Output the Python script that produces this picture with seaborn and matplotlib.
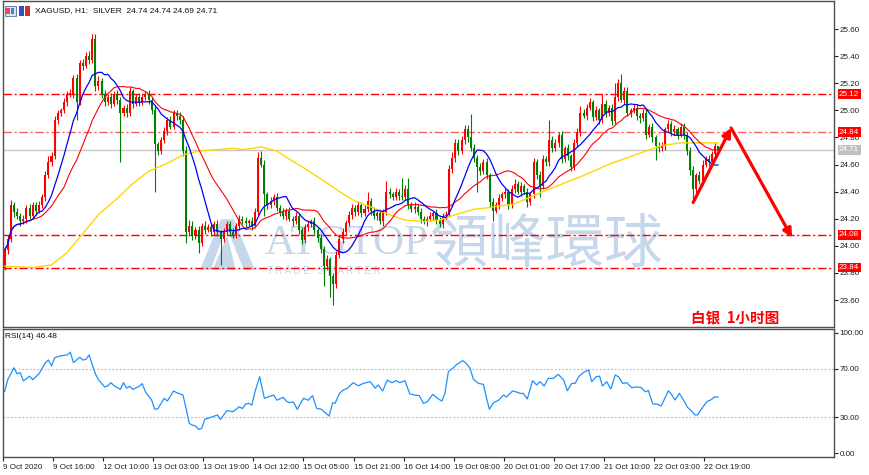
import numpy as np
import pandas as pd
import matplotlib
matplotlib.use("Agg")
import matplotlib.pyplot as plt
from matplotlib.patches import Rectangle, Polygon
import seaborn as sns

# Cours de clôture H1, une ligne = 16 bougies
closes = [
    23.97, 24.05, 24.30, 24.25, 24.22, 24.18, 24.20, 24.28, 24.22, 24.30, 24.26, 24.30, 24.36, 24.52, 24.62, 24.66,
    24.93, 24.98, 25.00, 25.06, 25.12, 25.12, 25.24, 25.06, 25.35, 25.33, 25.40, 25.37, 25.53, 25.18, 25.22, 25.12,
    25.06, 25.10, 25.05, 25.12, 25.08, 24.98, 25.02, 24.98, 25.14, 25.05, 25.10, 25.06, 25.10, 25.12, 25.08, 25.00,
    24.75, 24.70, 24.78, 24.85, 24.93, 24.88, 24.98, 24.96, 24.93, 24.70, 24.10, 24.15, 24.07, 24.12, 24.02, 24.15,
    24.12, 24.14, 24.10, 24.16, 24.10, 24.05, 24.10, 24.16, 24.10, 24.08, 24.15, 24.20, 24.18, 24.17, 24.18, 24.15,
    24.25, 24.65, 24.60, 24.38, 24.30, 24.33, 24.36, 24.28, 24.25, 24.22, 24.26, 24.20, 24.18, 24.22, 24.12, 24.04,
    24.14, 24.16, 24.18, 24.12, 24.06, 23.98, 23.85, 23.90, 23.78, 23.72, 23.93, 24.05, 24.10, 24.17, 24.23, 24.28,
    24.25, 24.30, 24.24, 24.27, 24.33, 24.26, 24.22, 24.24, 24.18, 24.25, 24.40, 24.38, 24.36, 24.40, 24.37, 24.36,
    24.42, 24.30, 24.27, 24.29, 24.25, 24.20, 24.18, 24.20, 24.22, 24.24, 24.19, 24.16, 24.22, 24.23, 24.57, 24.65,
    24.76, 24.70, 24.78, 24.86, 24.80, 24.72, 24.65, 24.58, 24.55, 24.62, 24.52, 24.32, 24.26, 24.30, 24.35, 24.38,
    24.40, 24.30, 24.42, 24.46, 24.40, 24.44, 24.40, 24.32, 24.38, 24.62, 24.52, 24.44, 24.64, 24.62, 24.78, 24.72,
    24.76, 24.82, 24.64, 24.72, 24.66, 24.58, 24.76, 24.84, 24.98, 24.96, 25.02, 25.06, 24.95, 25.00, 24.93, 25.05,
    24.98, 25.02, 24.92, 25.10, 25.20, 25.08, 25.14, 24.98, 25.00, 25.02, 24.96, 24.94, 24.98, 24.82, 24.88, 24.80,
    24.74, 24.72, 24.74, 24.86, 24.90, 24.84, 24.86, 24.82, 24.88, 24.82, 24.70, 24.56, 24.42, 24.52, 24.48, 24.60,
    24.64, 24.62, 24.68, 24.74, 24.71,
]
first_open = 23.84

# mèches hautes / basses en cents
wick_up = [
    1, 3, 4, 2, 3, 2, 3, 2, 3, 2, 2, 3, 2, 3, 4, 3,
    3, 2, 2, 3, 2, 4, 2, 3, 2, 3, 3, 4, 3, 3, 3, 2,
    3, 2, 3, 2, 3, 2, 2, 3, 3, 2, 2, 3, 2, 2, 3, 2,
    3, 2, 2, 3, 2, 3, 2, 2, 3, 3, 4, 4, 3, 2, 3, 2,
    3, 2, 3, 2, 3, 2, 3, 2, 2, 3, 2, 3, 2, 3, 2, 3,
    3, 4, 5, 3, 2, 3, 2, 3, 2, 3, 2, 3, 2, 3, 2, 2,
    2, 3, 2, 3, 2, 3, 2, 3, 2, 2, 3, 2, 3, 2, 3, 3,
    2, 3, 2, 3, 7, 2, 3, 2, 3, 2, 8, 3, 2, 3, 2, 13,
    3, 8, 2, 3, 2, 3, 2, 2, 3, 2, 3, 2, 2, 3, 3, 4,
    3, 3, 3, 3, 3, 17, 3, 2, 3, 2, 3, 2, 3, 2, 3, 2,
    3, 2, 3, 3, 2, 3, 2, 3, 2, 3, 2, 3, 3, 2, 15, 3,
    3, 2, 3, 2, 3, 2, 3, 3, 5, 3, 3, 3, 2, 3, 2, 7,
    3, 2, 3, 10, 3, 7, 3, 3, 2, 3, 3, 2, 3, 3, 2, 3,
    2, 3, 3, 2, 3, 2, 3, 2, 3, 3, 2, 3, 3, 2, 3, 3,
    2, 3, 2, 2, 0,
]
wick_dn = [
    2, 3, 2, 4, 2, 3, 2, 3, 2, 2, 3, 2, 2, 3, 2, 3,
    2, 3, 2, 2, 3, 2, 3, 13, 2, 3, 2, 3, 2, 4, 3, 3,
    3, 2, 3, 2, 3, 36, 2, 3, 2, 3, 2, 3, 2, 2, 3, 3,
    35, 3, 2, 2, 3, 2, 2, 3, 3, 4, 8, 3, 3, 2, 7, 2,
    3, 2, 3, 2, 3, 19, 2, 2, 3, 2, 2, 3, 2, 3, 2, 3,
    2, 3, 2, 16, 3, 2, 3, 2, 3, 2, 3, 2, 3, 2, 3, 3,
    2, 3, 2, 3, 3, 3, 15, 3, 16, 16, 3, 2, 3, 2, 2, 3,
    3, 2, 3, 2, 2, 3, 2, 3, 2, 3, 2, 3, 2, 2, 3, 2,
    2, 3, 2, 3, 2, 3, 2, 3, 2, 3, 3, 2, 3, 2, 2, 3,
    3, 3, 2, 3, 3, 2, 3, 18, 3, 2, 3, 3, 8, 2, 3, 2,
    3, 3, 2, 3, 2, 3, 2, 3, 2, 3, 3, 8, 2, 3, 3, 3,
    2, 3, 3, 2, 3, 3, 2, 3, 3, 2, 3, 2, 3, 2, 3, 2,
    3, 2, 3, 2, 3, 2, 3, 2, 3, 2, 3, 3, 2, 3, 2, 3,
    11, 3, 2, 3, 2, 3, 2, 3, 2, 3, 3, 4, 8, 3, 2, 3,
    2, 3, 2, 3, 2,
]

# moyenne mobile lente (jaune)
slow_bars = [0, 9, 15, 20, 25, 30, 36, 41, 46, 52, 57, 62, 68, 73, 76, 82, 87, 91, 96,
             102, 107, 112, 118, 123, 128, 134, 139, 144, 150, 154, 163, 173, 184, 194,
             205, 210, 216, 221, 228]
slow_vals = [23.85, 23.84, 23.86, 23.95, 24.09, 24.23, 24.35, 24.46, 24.55, 24.61, 24.67,
             24.70, 24.71, 24.72, 24.71, 24.73, 24.70, 24.64, 24.57, 24.48, 24.40, 24.33,
             24.28, 24.23, 24.19, 24.18, 24.19, 24.23, 24.27, 24.28, 24.31, 24.41, 24.51,
             24.61, 24.70, 24.74, 24.76, 24.76, 24.76]

# RSI(14)
rsi_bars = [0, 1, 3, 4, 5, 6, 8, 9, 11, 13, 14, 15, 16, 18, 20, 21, 22, 24, 25, 26, 27,
            29, 30, 32, 33, 34, 35, 37, 38, 39, 40, 41, 43, 44, 45, 47, 48, 49, 51, 52,
            54, 55, 57, 58, 59, 60, 61, 62, 63, 64, 65, 67, 68, 69, 71, 73, 75, 76, 77,
            78, 79, 80, 81.5, 83, 85, 86, 87, 89, 90, 91, 92.3, 93.5, 95.5, 97, 98.4,
            99.7, 101.3, 102.4, 103.7, 104.8, 105.6, 107, 108.2, 109.5, 111.4, 113,
            114.6, 116.8, 118.4, 119.4, 120.8, 122.3, 123.7, 125.1, 126.3, 127.9, 129.5,
            131.1, 132.5, 133.8, 135.1, 136.8, 138.3, 139.7, 140.7, 141.8, 143.2, 144.5,
            146.4, 147.4, 148.7, 149.8, 151.4, 153, 154, 154.9, 156.2, 157.8, 159.4,
            160.4, 162.3, 163.6, 164.7, 165.7, 167, 168.7, 170, 171.1, 172.4, 173.7,
            175.3, 176.9, 178.6, 179.8, 181.2, 182.3, 183.4, 185, 186.6, 187.6, 189,
            190.1, 191, 192.4, 193.7, 195.1, 196.1, 197.5, 198.8, 200.4, 201.8, 203.3,
            204.7, 205.7, 207.1, 208.4, 209.8, 210.7, 212.1, 213.2, 214.2, 215.6, 216.9,
            218.2, 219.2, 220.6, 221.4, 222.8, 224.4, 225.6, 227, 228]
rsi_vals = [51, 61, 71, 66, 67, 60, 64, 61, 66, 75, 77.5, 72.5, 79.4, 81, 81.7, 84, 75.3,
            79.7, 77.5, 78, 81.7, 66, 61, 55, 56, 58.6, 56, 53, 58.6, 54, 55.6, 53, 55.6,
            57.8, 51, 44, 36.4, 37, 45.6, 43.3, 51.7, 50.3, 48.3, 37, 24.7, 23.3, 22.5,
            19.7, 20.6, 28.3, 28.9, 30.8, 31.7, 28, 35.3, 34.4, 38.6, 37, 40.8, 41.4, 40,
            51, 63.6, 45.6, 47.5, 48.3, 44, 46.4, 43.3, 42, 42.5, 36.4, 45.6, 44, 47.8,
            37.2, 36.4, 33.6, 30.8, 41.9, 41.4, 49.7, 52.5, 53.9, 58.6, 56, 58, 59.4, 54,
            56.7, 51.7, 60.8, 58.6, 60.3, 58.6, 60.3, 49.2, 48.3, 47.8, 41.4, 42.8, 48.9,
            45.6, 43.3, 49.7, 67.8, 70.6, 73.9, 76.9, 75, 70.6, 61.4, 58, 57.2, 45.6, 36.4,
            41.9, 43.9, 48.3, 46.7, 51.7, 50.8, 49.7, 49.7, 45, 60.3, 56.7, 59.4, 55.8,
            62.2, 62.2, 65.6, 60.8, 51.9, 58, 58, 63.6, 67.2, 69.2, 59.4, 63.6, 64, 55.8,
            59.4, 53.3, 65, 63.6, 58, 58.6, 54.4, 55, 54.7, 51, 52, 40.8, 40.8, 39.2, 44.2,
            51.9, 48.3, 44.2, 49.7, 44.2, 38, 35.8, 31.7, 31.7, 37.2, 42.8, 44.2, 46.9,
            46.48]

levels = [25.12, 24.84, 24.08, 23.84]
level_colors = ["#ff0000", "#ff5c5c", "#ff0000", "#ff0000"]
last_price = 24.71
price_ticks = [23.60, 23.80, 24.00, 24.20, 24.40, 24.60, 24.80, 25.00, 25.20, 25.40, 25.60]
rsi_ticks = [0, 30, 70, 100]
time_labels = ["9 Oct 2020", "9 Oct 16:00", "12 Oct 10:00", "13 Oct 03:00", "13 Oct 19:00",
               "14 Oct 12:00", "15 Oct 05:00", "15 Oct 21:00", "16 Oct 14:00", "19 Oct 08:00",
               "20 Oct 01:00", "20 Oct 17:00", "21 Oct 10:00", "22 Oct 03:00", "22 Oct 19:00"]
# trajectoire prévue (flèches rouges) : (barre, prix)
forecast = [(220, 24.32), (232.1, 24.87), (251.6, 24.06)]

df = pd.DataFrame({"close": closes})
df["open"] = df["close"].shift(1).fillna(first_open)
df["high"] = df[["open", "close"]].max(axis=1) + np.array(wick_up) / 100
df["low"] = df[["open", "close"]].min(axis=1) - np.array(wick_dn) / 100
df["bar"] = np.arange(len(df))
df["ma_fast"] = df["close"].rolling(10, min_periods=1).mean()
df["ma_mid"] = df["close"].rolling(20, min_periods=1).mean()

sns.set_style("white")
plt.rcParams["font.family"] = ["Liberation Sans", "Noto Sans CJK SC", "DejaVu Sans"]

W, H = 870, 475
fig = plt.figure(figsize=(8.7, 4.75), dpi=100)
ax = fig.add_axes([3 / W, 1 - 327 / H, 831 / W, 326 / H])
ax2 = fig.add_axes([3 / W, 1 - 457 / H, 831 / W, 128 / H])

# filigrane
wm = "#c6d7eb"
ax.text(0.315, 0.224, "ATGTOP", transform=ax.transAxes, fontsize=31, color=wm,
        family="Liberation Serif", ha="left", va="baseline", zorder=0)
ax.text(0.513, 0.2, "領峰環球", transform=ax.transAxes, fontsize=42, color=wm,
        family=["Noto Sans CJK TC"], ha="left", va="baseline", zorder=0)
ax.text(0.318, 0.186, "T R A D E   S M A R T E R", transform=ax.transAxes, fontsize=7,
        color=wm, ha="left", va="top", zorder=0)
for poly in [[(0.237, 0.175), (0.262, 0.33), (0.272, 0.33), (0.25, 0.175)],
             [(0.265, 0.33), (0.29, 0.175), (0.303, 0.175), (0.278, 0.33)],
             [(0.252, 0.175), (0.27, 0.28), (0.28, 0.175)]]:
    ax.add_patch(Polygon(poly, closed=True, transform=ax.transAxes, fc=wm,
                         ec="none", zorder=0))

# niveaux horizontaux
for lv, col in zip(levels, level_colors):
    ax.axhline(lv, color=col, lw=1, ls=(0, (6, 2, 1.5, 2)), zorder=1)
ax.axhline(last_price, color="#c8c8c8", lw=1, zorder=1)

# bougies : rouge = hausse, vert = baisse
up = df["close"] >= df["open"]
colors = np.where(up, "#ff0000", "#008000")
ax.vlines(df["bar"], df["low"], df["high"], colors=colors, lw=0.8, zorder=2)
body = (df["close"] - df["open"]).abs().clip(lower=0.005)
ax.bar(df["bar"], body, bottom=df[["open", "close"]].min(axis=1), width=0.65,
       color=colors, lw=0, zorder=3)

# moyennes mobiles
sns.lineplot(x=slow_bars, y=slow_vals, ax=ax, color="#ffd700", lw=1, zorder=4)
sns.lineplot(data=df, x="bar", y="ma_mid", ax=ax, color="#ff0000", lw=0.8, zorder=4)
sns.lineplot(data=df, x="bar", y="ma_fast", ax=ax, color="#0000ff", lw=0.9, zorder=5)

# flèches de prévision
for (x0, y0), (x1, y1) in zip(forecast[:-1], forecast[1:]):
    ax.annotate("", xy=(x1, y1), xytext=(x0, y0),
                arrowprops=dict(arrowstyle="-|>", color="#ff0000", lw=2.3,
                                mutation_scale=13, shrinkA=0, shrinkB=0), zorder=6)

ax.set_xlim(-0.5, 265)
ax.set_ylim(23.401, 25.807)
ax.yaxis.tick_right()
ax.set_yticks(price_ticks)
ax.set_yticklabels([f"{t:.2f}" for t in price_ticks])
ax.set_xticks([])
ax.set_xlabel("")
ax.set_ylabel("")
ax.tick_params(axis="y", direction="out", length=3, width=0.8, pad=1,
               labelsize=5.8, colors="#202020", right=True)

ytr = ax.get_yaxis_transform()
for lv in levels:
    ax.text(1.006, lv, f"{lv:.2f}", transform=ytr, fontsize=5.8, color="white",
            va="center", ha="left", clip_on=False, zorder=10,
            bbox=dict(boxstyle="square,pad=0.18", fc="#ff0000", ec="none"))
ax.text(1.006, last_price, f"{last_price:.2f}", transform=ytr, fontsize=5.8, color="white",
        va="center", ha="left", clip_on=False, zorder=10,
        bbox=dict(boxstyle="square,pad=0.18", fc="#c0c0c0", ec="none"))

# RSI
for lv in [30, 70]:
    ax2.axhline(lv, color="#c0c0c0", lw=0.9, ls=(0, (1.5, 1.5)))
sns.lineplot(x=rsi_bars, y=rsi_vals, ax=ax2, color="#1e90ff", lw=0.9)
ax2.set_xlim(-0.5, 265)
ax2.set_ylim(-3.3, 103.3)
ax2.yaxis.tick_right()
ax2.set_yticks(rsi_ticks)
ax2.set_yticklabels([f"{t:.2f}" for t in rsi_ticks])
ax2.set_xticks(np.arange(len(time_labels)) * 16 - 0.5)
ax2.set_xticklabels(time_labels, ha="left")
ax2.set_xlabel("")
ax2.set_ylabel("")
ax2.tick_params(axis="both", direction="out", length=3, width=0.8, pad=1,
                labelsize=5.8, colors="#202020")
ax2.tick_params(axis="y", right=True)
ax2.tick_params(axis="x", bottom=True, pad=2)

for a in (ax, ax2):
    for s in a.spines.values():
        s.set_color("#505050")
        s.set_linewidth(1)

# textes
fig.add_artist(Rectangle((5 / W, 1 - 16 / H), 11 / W, 10 / H, fc="#d8e4f4", ec="#5070a0", lw=0.6))
fig.add_artist(Rectangle((6.5 / W, 1 - 14 / H), 3.5 / W, 6 / H, fc="#e05050", ec="none"))
fig.add_artist(Rectangle((11 / W, 1 - 14 / H), 3.5 / W, 6 / H, fc="#5080d0", ec="none"))
fig.add_artist(Rectangle((19 / W, 1 - 16 / H), 5 / W, 10 / H, fc="#3050c0", ec="none"))
fig.add_artist(Rectangle((25 / W, 1 - 16 / H), 5 / W, 10 / H, fc="#d03030", ec="none"))
fig.text(35 / W, 1 - 11 / H, "XAGUSD, H1:  SILVER  24.74 24.74 24.69 24.71",
         fontsize=6, color="#101010", va="center", ha="left")
fig.text(5 / W, 1 - 337 / H, "RSI(14) 46.48", fontsize=6, color="#101010",
         va="center", ha="left")
fig.text(735 / W, 1 - 318 / H, "白银  1小时图", fontsize=10.5, fontweight="bold",
         color="#ff0000", ha="center", va="center",
         family=["Noto Sans CJK SC", "DejaVu Sans"])

fig.savefig("out.png", dpi=100)
